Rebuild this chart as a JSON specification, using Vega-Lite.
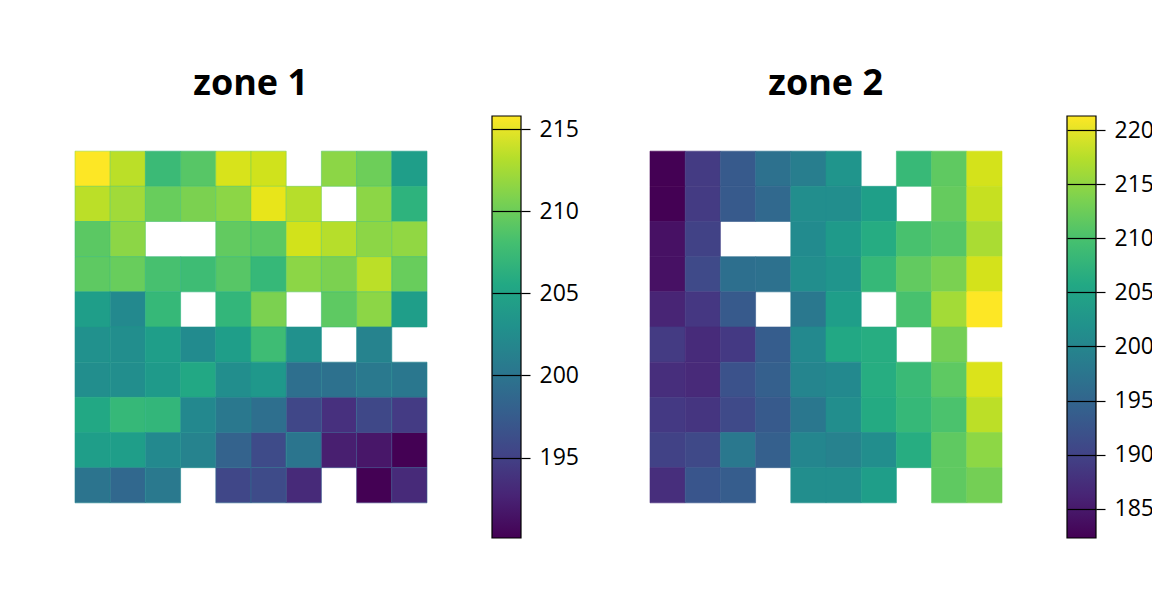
{
  "$schema": "https://vega.github.io/schema/vega-lite/v6.json",
  "padding": {"left": 74, "top": 66, "right": 0, "bottom": 0},
  "background": "white",
  "config": {
    "view": {"stroke": null},
    "font": "Open Sans",
    "title": {"font": "Open Sans", "fontSize": 36, "fontWeight": "bold", "color": "black"}
  },
  "resolve": {"scale": {"color": "independent"}},
  "spacing": 70,
  "datasets": {
    "z1": [
      {"row": 1, "col": 1, "value": 215.8}, {"row": 1, "col": 2, "value": 213.2}, {"row": 1, "col": 3, "value": 207.6}, {"row": 1, "col": 4, "value": 209.1}, {"row": 1, "col": 5, "value": 214.3}, {"row": 1, "col": 6, "value": 214.0}, {"row": 1, "col": 8, "value": 211.4}, {"row": 1, "col": 9, "value": 210.1}, {"row": 1, "col": 10, "value": 204.4},
      {"row": 2, "col": 1, "value": 213.2}, {"row": 2, "col": 2, "value": 212.2}, {"row": 2, "col": 3, "value": 209.9}, {"row": 2, "col": 4, "value": 210.7}, {"row": 2, "col": 5, "value": 211.4}, {"row": 2, "col": 6, "value": 214.9}, {"row": 2, "col": 7, "value": 213.0}, {"row": 2, "col": 9, "value": 211.4}, {"row": 2, "col": 10, "value": 206.7},
      {"row": 3, "col": 1, "value": 209.3}, {"row": 3, "col": 2, "value": 211.4}, {"row": 3, "col": 5, "value": 209.6}, {"row": 3, "col": 6, "value": 209.3}, {"row": 3, "col": 7, "value": 214.1}, {"row": 3, "col": 8, "value": 213.0}, {"row": 3, "col": 9, "value": 211.4}, {"row": 3, "col": 10, "value": 211.6},
      {"row": 4, "col": 1, "value": 209.4}, {"row": 4, "col": 2, "value": 209.9}, {"row": 4, "col": 3, "value": 208.3}, {"row": 4, "col": 4, "value": 207.8}, {"row": 4, "col": 5, "value": 209.1}, {"row": 4, "col": 6, "value": 207.3}, {"row": 4, "col": 7, "value": 211.4}, {"row": 4, "col": 8, "value": 210.7}, {"row": 4, "col": 9, "value": 213.2}, {"row": 4, "col": 10, "value": 209.9},
      {"row": 5, "col": 1, "value": 204.4}, {"row": 5, "col": 2, "value": 202.2}, {"row": 5, "col": 3, "value": 207.3}, {"row": 5, "col": 5, "value": 207.1}, {"row": 5, "col": 6, "value": 210.7}, {"row": 5, "col": 8, "value": 209.4}, {"row": 5, "col": 9, "value": 211.4}, {"row": 5, "col": 10, "value": 204.4},
      {"row": 6, "col": 1, "value": 203.0}, {"row": 6, "col": 2, "value": 202.7}, {"row": 6, "col": 3, "value": 204.5}, {"row": 6, "col": 4, "value": 202.4}, {"row": 6, "col": 5, "value": 204.5}, {"row": 6, "col": 6, "value": 207.8}, {"row": 6, "col": 7, "value": 203.0}, {"row": 6, "col": 9, "value": 201.5},
      {"row": 7, "col": 1, "value": 202.7}, {"row": 7, "col": 2, "value": 202.7}, {"row": 7, "col": 3, "value": 204.0}, {"row": 7, "col": 4, "value": 205.5}, {"row": 7, "col": 5, "value": 202.7}, {"row": 7, "col": 6, "value": 203.8}, {"row": 7, "col": 7, "value": 199.4}, {"row": 7, "col": 8, "value": 199.6}, {"row": 7, "col": 9, "value": 200.5}, {"row": 7, "col": 10, "value": 200.3},
      {"row": 8, "col": 1, "value": 205.5}, {"row": 8, "col": 2, "value": 207.3}, {"row": 8, "col": 3, "value": 207.1}, {"row": 8, "col": 4, "value": 202.1}, {"row": 8, "col": 5, "value": 200.4}, {"row": 8, "col": 6, "value": 199.4}, {"row": 8, "col": 7, "value": 195.5}, {"row": 8, "col": 8, "value": 193.6}, {"row": 8, "col": 9, "value": 195.6}, {"row": 8, "col": 10, "value": 194.5},
      {"row": 9, "col": 1, "value": 204.5}, {"row": 9, "col": 2, "value": 204.5}, {"row": 9, "col": 3, "value": 202.2}, {"row": 9, "col": 4, "value": 201.5}, {"row": 9, "col": 5, "value": 198.1}, {"row": 9, "col": 6, "value": 195.8}, {"row": 9, "col": 7, "value": 200.1}, {"row": 9, "col": 8, "value": 192.2}, {"row": 9, "col": 9, "value": 191.6}, {"row": 9, "col": 10, "value": 190.1},
      {"row": 10, "col": 1, "value": 199.9}, {"row": 10, "col": 2, "value": 198.7}, {"row": 10, "col": 3, "value": 200.5}, {"row": 10, "col": 5, "value": 195.5}, {"row": 10, "col": 6, "value": 195.8}, {"row": 10, "col": 7, "value": 193.1}, {"row": 10, "col": 9, "value": 190.1}, {"row": 10, "col": 10, "value": 193.1}
    ],
    "z2": [
      {"row": 1, "col": 1, "value": 182.3}, {"row": 1, "col": 2, "value": 188.9}, {"row": 1, "col": 3, "value": 193.2}, {"row": 1, "col": 4, "value": 196.7}, {"row": 1, "col": 5, "value": 198.7}, {"row": 1, "col": 6, "value": 202.6}, {"row": 1, "col": 8, "value": 208.6}, {"row": 1, "col": 9, "value": 211.7}, {"row": 1, "col": 10, "value": 218.8},
      {"row": 2, "col": 1, "value": 182.3}, {"row": 2, "col": 2, "value": 188.9}, {"row": 2, "col": 3, "value": 193.2}, {"row": 2, "col": 4, "value": 195.4}, {"row": 2, "col": 5, "value": 201.4}, {"row": 2, "col": 6, "value": 201.4}, {"row": 2, "col": 7, "value": 204.3}, {"row": 2, "col": 9, "value": 212.1}, {"row": 2, "col": 10, "value": 218.0},
      {"row": 3, "col": 1, "value": 183.9}, {"row": 3, "col": 2, "value": 189.9}, {"row": 3, "col": 5, "value": 201.0}, {"row": 3, "col": 6, "value": 203.4}, {"row": 3, "col": 7, "value": 206.3}, {"row": 3, "col": 8, "value": 210.0}, {"row": 3, "col": 9, "value": 211.0}, {"row": 3, "col": 10, "value": 216.4},
      {"row": 4, "col": 1, "value": 183.9}, {"row": 4, "col": 2, "value": 190.9}, {"row": 4, "col": 3, "value": 196.5}, {"row": 4, "col": 4, "value": 196.7}, {"row": 4, "col": 5, "value": 201.4}, {"row": 4, "col": 6, "value": 202.6}, {"row": 4, "col": 7, "value": 208.4}, {"row": 4, "col": 8, "value": 211.9}, {"row": 4, "col": 9, "value": 213.5}, {"row": 4, "col": 10, "value": 218.8},
      {"row": 5, "col": 1, "value": 186.2}, {"row": 5, "col": 2, "value": 188.5}, {"row": 5, "col": 3, "value": 193.2}, {"row": 5, "col": 5, "value": 197.9}, {"row": 5, "col": 6, "value": 204.1}, {"row": 5, "col": 8, "value": 210.0}, {"row": 5, "col": 9, "value": 216.0}, {"row": 5, "col": 10, "value": 221.3},
      {"row": 6, "col": 1, "value": 188.9}, {"row": 6, "col": 2, "value": 187.0}, {"row": 6, "col": 3, "value": 188.7}, {"row": 6, "col": 4, "value": 193.6}, {"row": 6, "col": 5, "value": 200.6}, {"row": 6, "col": 6, "value": 205.7}, {"row": 6, "col": 7, "value": 206.5}, {"row": 6, "col": 9, "value": 213.1},
      {"row": 7, "col": 1, "value": 187.4}, {"row": 7, "col": 2, "value": 186.8}, {"row": 7, "col": 3, "value": 192.1}, {"row": 7, "col": 4, "value": 194.0}, {"row": 7, "col": 5, "value": 200.0}, {"row": 7, "col": 6, "value": 200.6}, {"row": 7, "col": 7, "value": 206.5}, {"row": 7, "col": 8, "value": 208.8}, {"row": 7, "col": 9, "value": 211.6}, {"row": 7, "col": 10, "value": 219.2},
      {"row": 8, "col": 1, "value": 188.7}, {"row": 8, "col": 2, "value": 188.2}, {"row": 8, "col": 3, "value": 190.9}, {"row": 8, "col": 4, "value": 193.2}, {"row": 8, "col": 5, "value": 197.7}, {"row": 8, "col": 6, "value": 201.4}, {"row": 8, "col": 7, "value": 206.1}, {"row": 8, "col": 8, "value": 208.4}, {"row": 8, "col": 9, "value": 210.2}, {"row": 8, "col": 10, "value": 217.4},
      {"row": 9, "col": 1, "value": 189.9}, {"row": 9, "col": 2, "value": 190.7}, {"row": 9, "col": 3, "value": 197.9}, {"row": 9, "col": 4, "value": 194.0}, {"row": 9, "col": 5, "value": 200.2}, {"row": 9, "col": 6, "value": 199.3}, {"row": 9, "col": 7, "value": 201.4}, {"row": 9, "col": 8, "value": 206.5}, {"row": 9, "col": 9, "value": 211.7}, {"row": 9, "col": 10, "value": 214.7},
      {"row": 10, "col": 1, "value": 187.4}, {"row": 10, "col": 2, "value": 192.6}, {"row": 10, "col": 3, "value": 193.6}, {"row": 10, "col": 5, "value": 201.4}, {"row": 10, "col": 6, "value": 201.4}, {"row": 10, "col": 7, "value": 204.1}, {"row": 10, "col": 9, "value": 211.7}, {"row": 10, "col": 10, "value": 213.1}
    ]
  },
  "hconcat": [
    {
      "title": {"text": "zone 1", "anchor": "start", "align": "center", "dx": 176, "offset": 12},
      "spacing": 63,
      "hconcat": [
        {
          "data": {"name": "z1"},
          "width": 352,
          "height": 422,
          "mark": {"type": "rect", "strokeWidth": 0.6},
          "encoding": {
            "x": {"field": "col", "type": "ordinal", "scale": {"paddingInner": 0, "paddingOuter": 0, "domain": [1,2,3,4,5,6,7,8,9,10]}, "axis": null},
            "y": {"field": "row", "type": "ordinal", "scale": {"paddingInner": 0, "paddingOuter": 1, "domain": [1,2,3,4,5,6,7,8,9,10]}, "axis": null},
            "color": {"field": "value", "type": "quantitative", "scale": {"scheme": "viridis", "zero": false, "nice": false}, "legend": null},
            "stroke": {"field": "value", "type": "quantitative", "scale": {"scheme": "viridis", "zero": false, "nice": false}, "legend": null}
          }
        },
        {
          "data": {"name": "z1"},
          "width": 29,
          "height": 422,
          "transform": [{"aggregate": [{"op": "min", "field": "value", "as": "lo"}, {"op": "max", "field": "value", "as": "hi"}]}],
          "mark": {
            "type": "rect", "stroke": "black", "strokeWidth": 1.2,
            "color": {"gradient": "linear", "x1": 0, "y1": 1, "x2": 0, "y2": 0, "stops": [
              {"offset": 0, "color": "#440154"}, {"offset": 0.1, "color": "#482475"}, {"offset": 0.2, "color": "#414487"}, {"offset": 0.3, "color": "#355f8d"}, {"offset": 0.4, "color": "#2a788e"}, {"offset": 0.5, "color": "#21918c"}, {"offset": 0.6, "color": "#22a884"}, {"offset": 0.7, "color": "#44bf70"}, {"offset": 0.8, "color": "#7ad151"}, {"offset": 0.9, "color": "#b5de2b"}, {"offset": 1, "color": "#fde725"}
            ]}
          },
          "encoding": {
            "y": {"field": "lo", "type": "quantitative", "scale": {"zero": false, "nice": false}, "axis": {"orient": "right", "values": [195, 200, 205, 210, 215], "title": null, "domain": false, "grid": true, "gridColor": "black", "gridOpacity": 1, "gridWidth": 1.2, "tickSize": 9, "tickColor": "black", "tickWidth": 1.2, "labelFontSize": 23, "labelColor": "black", "labelPadding": 9, "labelFont": "Open Sans", "zindex": 1}},
            "y2": {"field": "hi"}
          }
        }
      ]
    },
    {
      "title": {"text": "zone 2", "anchor": "start", "align": "center", "dx": 176, "offset": 12},
      "spacing": 63,
      "hconcat": [
        {
          "data": {"name": "z2"},
          "width": 352,
          "height": 422,
          "mark": {"type": "rect", "strokeWidth": 0.6},
          "encoding": {
            "x": {"field": "col", "type": "ordinal", "scale": {"paddingInner": 0, "paddingOuter": 0, "domain": [1,2,3,4,5,6,7,8,9,10]}, "axis": null},
            "y": {"field": "row", "type": "ordinal", "scale": {"paddingInner": 0, "paddingOuter": 1, "domain": [1,2,3,4,5,6,7,8,9,10]}, "axis": null},
            "color": {"field": "value", "type": "quantitative", "scale": {"scheme": "viridis", "zero": false, "nice": false}, "legend": null},
            "stroke": {"field": "value", "type": "quantitative", "scale": {"scheme": "viridis", "zero": false, "nice": false}, "legend": null}
          }
        },
        {
          "data": {"name": "z2"},
          "width": 29,
          "height": 422,
          "transform": [{"aggregate": [{"op": "min", "field": "value", "as": "lo"}, {"op": "max", "field": "value", "as": "hi"}]}],
          "mark": {
            "type": "rect", "stroke": "black", "strokeWidth": 1.2,
            "color": {"gradient": "linear", "x1": 0, "y1": 1, "x2": 0, "y2": 0, "stops": [
              {"offset": 0, "color": "#440154"}, {"offset": 0.1, "color": "#482475"}, {"offset": 0.2, "color": "#414487"}, {"offset": 0.3, "color": "#355f8d"}, {"offset": 0.4, "color": "#2a788e"}, {"offset": 0.5, "color": "#21918c"}, {"offset": 0.6, "color": "#22a884"}, {"offset": 0.7, "color": "#44bf70"}, {"offset": 0.8, "color": "#7ad151"}, {"offset": 0.9, "color": "#b5de2b"}, {"offset": 1, "color": "#fde725"}
            ]}
          },
          "encoding": {
            "y": {"field": "lo", "type": "quantitative", "scale": {"zero": false, "nice": false}, "axis": {"orient": "right", "values": [185, 190, 195, 200, 205, 210, 215, 220], "title": null, "domain": false, "grid": true, "gridColor": "black", "gridOpacity": 1, "gridWidth": 1.2, "tickSize": 9, "tickColor": "black", "tickWidth": 1.2, "labelFontSize": 23, "labelColor": "black", "labelPadding": 9, "labelFont": "Open Sans", "zindex": 1}},
            "y2": {"field": "hi"}
          }
        }
      ]
    }
  ]
}
